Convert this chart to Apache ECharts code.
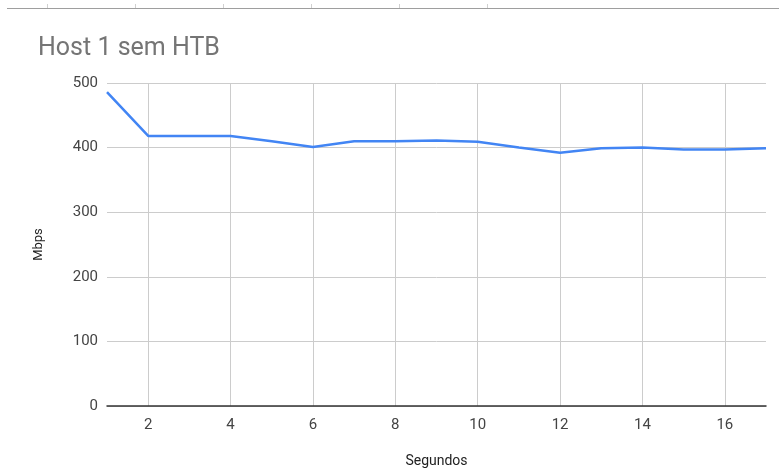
<!DOCTYPE html>
<html>
<head>
<meta charset="utf-8">
<script src="https://cdn.jsdelivr.net/npm/echarts@6/dist/echarts.min.js"></script>
<style>
html,body{margin:0;padding:0;background:#fff;}
#chart{width:779px;height:470px;}
</style>
</head>
<body>
<div id="chart"></div>
<script>
const seconds = ['1','2','3','4','5','6','7','8','9','10','11','12','13','14','15','16','17'];
const mbps = [486, 418, 418, 418, 410, 401, 410, 410, 411, 409, 400, 392, 399, 400, 397, 397, 399];
const yTicks = { min: 0, max: 500, interval: 100 };
const titleText = 'Host 1 sem HTB';
const xName = 'Segundos';
const yName = 'Mbps';

const chart = echarts.init(document.getElementById('chart'));
const font = 'Roboto, Arial, sans-serif';
chart.setOption({
  animation: false,
  title: {
    text: titleText,
    left: 33, top: 31,
    textStyle: { color: '#757575', fontSize: 25, fontWeight: 'normal', fontFamily: font }
  },
  graphic: [
    { type: 'line', shape: { x1: 7, y1: 8.5, x2: 779, y2: 8.5 }, style: { stroke: '#9e9e9e', lineWidth: 1 } },
    { type: 'line', shape: { x1: 47.5, y1: 4, x2: 47.5, y2: 8 }, style: { stroke: '#d0d0d0', lineWidth: 1 } },
    { type: 'line', shape: { x1: 135.5, y1: 4, x2: 135.5, y2: 8 }, style: { stroke: '#d0d0d0', lineWidth: 1 } },
    { type: 'line', shape: { x1: 223.5, y1: 4, x2: 223.5, y2: 8 }, style: { stroke: '#d0d0d0', lineWidth: 1 } },
    { type: 'line', shape: { x1: 311.5, y1: 4, x2: 311.5, y2: 8 }, style: { stroke: '#d0d0d0', lineWidth: 1 } },
    { type: 'line', shape: { x1: 399.5, y1: 4, x2: 399.5, y2: 8 }, style: { stroke: '#d0d0d0', lineWidth: 1 } },
    { type: 'line', shape: { x1: 487.5, y1: 4, x2: 487.5, y2: 8 }, style: { stroke: '#d0d0d0', lineWidth: 1 } }
  ],
  grid: { left: 107, right: 13, top: 83, bottom: 64, outerBoundsMode: 'none', containLabel: false },
  xAxis: {
    type: 'category',
    data: seconds,
    boundaryGap: false,
    name: xName,
    nameLocation: 'middle',
    nameGap: 48,
    nameTextStyle: { color: '#222', fontSize: 14, fontFamily: font },
    axisLine: { lineStyle: { color: '#333', width: 1.5 } },
    axisTick: { show: false },
    axisLabel: {
      interval: (i) => i % 2 === 1,
      color: '#444', fontSize: 15, fontFamily: font, margin: 12
    },
    splitLine: {
      show: true,
      interval: (i) => i % 2 === 1,
      lineStyle: { color: '#cccccc', width: 1 }
    }
  },
  yAxis: {
    type: 'value',
    min: yTicks.min, max: yTicks.max, interval: yTicks.interval,
    name: yName,
    nameLocation: 'middle',
    nameGap: 62,
    nameTextStyle: { color: '#222', fontSize: 13, fontFamily: font },
    axisLine: { show: false },
    axisTick: { show: false },
    axisLabel: { color: '#444', fontSize: 15, fontFamily: font, margin: 9 },
    splitLine: { lineStyle: { color: '#cccccc', width: 1 } }
  },
  series: [{
    type: 'line',
    data: mbps,
    showSymbol: false,
    lineStyle: { color: '#4285F4', width: 2.5 },
    itemStyle: { color: '#4285F4' }
  }]
});
</script>
</body>
</html>
